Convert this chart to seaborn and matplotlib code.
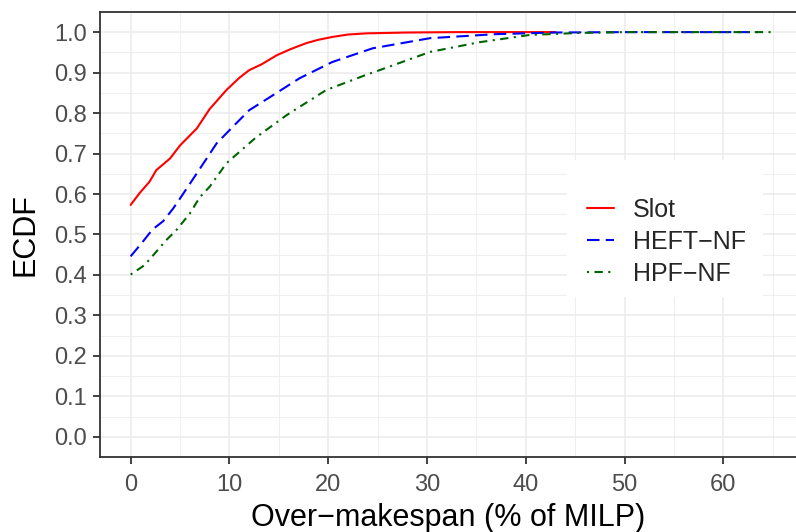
import matplotlib
matplotlib.use("Agg")
import matplotlib.pyplot as plt
from matplotlib.patches import Rectangle
from matplotlib.ticker import MultipleLocator
import pandas as pd
import seaborn as sns

# ---- data ----
methods = ["Slot", "HEFT−NF", "HPF−NF"]

slot_x = [0, 0.9, 1.9, 2.6, 4.0, 5.0, 6.7, 8.0, 9.7, 11.0, 12.0, 13.3, 14.8, 16.2, 17.8, 19.0,
          20.4, 22.0, 23.9, 28, 33, 38, 43]
slot_y = [0.573, 0.602, 0.630, 0.659, 0.688, 0.720, 0.762, 0.810, 0.857, 0.887, 0.906, 0.921,
          0.943, 0.958, 0.973, 0.981, 0.988, 0.994, 0.997, 0.999, 1.0, 1.0, 1.0]

heft_x = [0, 1.1, 2.2, 3.3, 4.3, 5.0, 6.7, 8.7, 10.3, 12.0, 14.4, 17.1, 20.4, 24.5, 30.3, 37,
          43, 50, 57, 63.5]
heft_y = [0.446, 0.478, 0.512, 0.533, 0.564, 0.589, 0.651, 0.725, 0.765, 0.807, 0.844, 0.886,
          0.926, 0.960, 0.985, 0.995, 0.999, 1.0, 1.0, 1.0]

hpf_x = [0, 1.4, 2.9, 3.6, 4.6, 6.0, 7.0, 8.0, 9.7, 12.7, 15.8, 19.8, 23.9, 25.2, 30.3, 35.3,
         40.4, 45.4, 50, 55, 60, 65.2]
hpf_y = [0.401, 0.424, 0.466, 0.486, 0.510, 0.552, 0.592, 0.618, 0.676, 0.740, 0.795, 0.857,
         0.895, 0.906, 0.951, 0.975, 0.993, 0.998, 1.0, 1.0, 1.0, 1.0]

x_ticks = [0, 10, 20, 30, 40, 50, 60]
y_ticks = [0.0, 0.1, 0.2, 0.3, 0.4, 0.5, 0.6, 0.7, 0.8, 0.9, 1.0]

colors = {"Slot": "#FF0000", "HEFT−NF": "#0000FF", "HPF−NF": "#006400"}

df = pd.concat([
    pd.DataFrame({"x": slot_x, "y": slot_y, "Method": methods[0]}),
    pd.DataFrame({"x": heft_x, "y": heft_y, "Method": methods[1]}),
    pd.DataFrame({"x": hpf_x, "y": hpf_y, "Method": methods[2]}),
], ignore_index=True)

sns.set_theme(style="white")
plt.rcParams["font.family"] = ["Liberation Sans", "DejaVu Sans"]

fig = plt.figure(figsize=(7.96, 5.32), dpi=100)
ax = fig.add_axes([100 / 796, 75 / 532, 696 / 796, 445 / 532])

sns.lineplot(data=df, x="x", y="y", hue="Method", style="Method", hue_order=methods,
             style_order=methods, palette=colors,
             dashes={"Slot": "", "HEFT−NF": (6, 3), "HPF−NF": (1, 2.6, 4, 2.6)},
             sort=False, estimator=None, linewidth=1.5, ax=ax, legend=True)

ax.set_xlim(-3.1, 67.35)
ax.set_ylim(-0.0498, 1.0497)
ax.set_xticks(x_ticks)
ax.set_yticks(y_ticks)
ax.set_yticklabels([f"{v:.1f}" for v in y_ticks])
ax.xaxis.set_minor_locator(MultipleLocator(5))
ax.yaxis.set_minor_locator(MultipleLocator(0.05))
ax.set_axisbelow(True)
ax.grid(which="major", color="#EBEBEB", linewidth=1.1)
ax.grid(which="minor", color="#EBEBEB", linewidth=0.55)

for side in ["left", "bottom", "top"]:
    ax.spines[side].set_visible(True)
    ax.spines[side].set_color("#333333")
    ax.spines[side].set_linewidth(1.3)
ax.spines["right"].set_visible(False)

ax.tick_params(which="major", length=5, width=1.3, color="#333333", labelcolor="#4D4D4D",
               labelsize=17, bottom=True, left=True)
ax.tick_params(axis="x", which="major", pad=7)
ax.tick_params(axis="y", which="major", pad=4.5)
ax.tick_params(which="minor", length=0)

ax.set_xlabel("Over−makespan (% of MILP)", fontsize=22, color="black", labelpad=5)
ax.set_ylabel("ECDF", fontsize=22, color="black", labelpad=10)

handles, labels = ax.get_legend_handles_labels()
ax.get_legend().remove()

fig.patches.append(Rectangle((567 / 796, (532 - 297) / 532), 196 / 796, 137 / 532,
                             transform=fig.transFigure, facecolor="white", edgecolor="none",
                             zorder=5))
leg = fig.legend(handles, labels, loc="center left", bbox_to_anchor=(587 / 796, 0.5451),
                 frameon=False, fontsize=18, handlelength=1.08, handletextpad=0.76,
                 labelspacing=0.32, borderpad=0, borderaxespad=0)
leg.set_zorder(6)

fig.savefig("out.png", dpi=100)
